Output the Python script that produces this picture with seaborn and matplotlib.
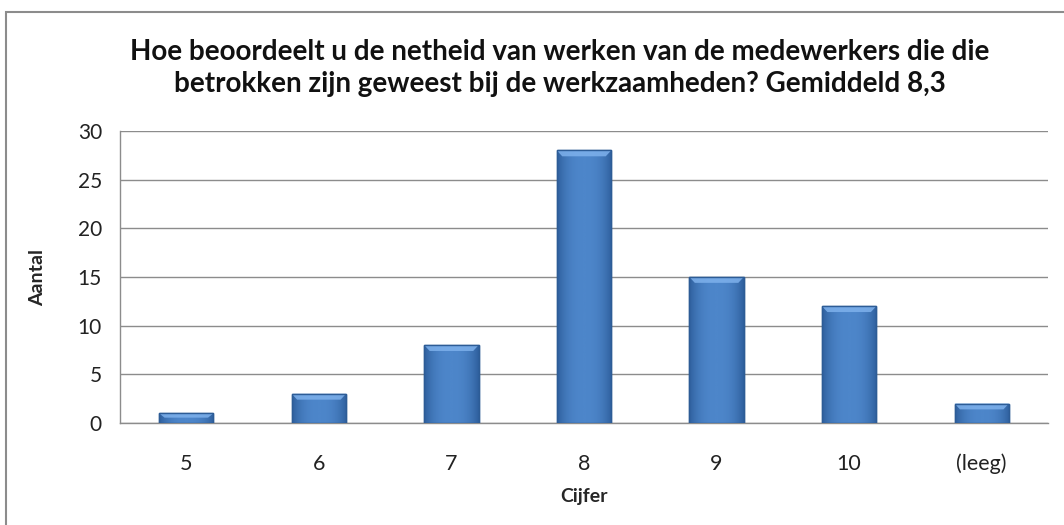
import numpy as np
import pandas as pd
import matplotlib
matplotlib.use("Agg")
import matplotlib.pyplot as plt
import seaborn as sns
from matplotlib.patches import Rectangle, Polygon

# data
categories = ['5', '6', '7', '8', '9', '10', '(leeg)']
counts = [1, 3, 8, 28, 15, 12, 2]
title = ('Hoe beoordeelt u de netheid van werken van de medewerkers die die\n'
         'betrokken zijn geweest bij de werkzaamheden? Gemiddeld 8,3')

sns.set_style('white')
plt.rcParams['font.family'] = ['Lato', 'DejaVu Sans']

df = pd.DataFrame({'Cijfer': categories, 'Aantal': counts})

fig = plt.figure(figsize=(10.64, 5.25), dpi=100)
ax = fig.add_axes([120 / 1064, 1 - 423 / 525, 928 / 1064, 292 / 525])

sns.barplot(data=df, x='Cijfer', y='Aantal', color='#4a80c4', width=0.41,
            edgecolor='#2d5c96', linewidth=1.0, saturation=1, ax=ax, zorder=3)

# horizontale verloop + lichte schuine bovenrand (reliëf)
grad = np.linspace(-1, 1, 64)
grad = np.abs(grad) ** 2.5
cmap = matplotlib.colors.LinearSegmentedColormap.from_list('bar', ['#4d86ca', '#2f609e'])
for p in list(ax.patches):
    x0, w, h = p.get_x(), p.get_width(), p.get_height()
    im = ax.imshow(grad[None, :], extent=(x0, x0 + w, 0, h), cmap=cmap, aspect='auto',
                   zorder=3.5, interpolation='bicubic')
    im.set_clip_path(p)
    d = min(0.6, h * 0.45)
    dx = w * 0.1
    ax.add_patch(Polygon([(x0, h), (x0 + w, h), (x0 + w - dx, h - d), (x0 + dx, h - d)],
                         closed=True, facecolor='#7eb1ec', edgecolor='none', alpha=0.85, zorder=4))
    ax.add_patch(Rectangle((x0, 0), w, h, fill=False, edgecolor='#2d5c96', linewidth=1.0, zorder=5))

ax.set_ylim(0, 30)
ax.set_xlim(-0.5, len(categories) - 0.5)
ax.set_yticks(np.arange(0, 31, 5))
ax.yaxis.grid(True, color='#8c8c8c', linewidth=1.0, zorder=0)
ax.set_axisbelow(True)

# ticks op de grenzen, labels in het midden
ax.set_xticks(np.arange(-0.5, len(categories)), minor=False)
ax.set_xticklabels([])
ax.set_xticks(np.arange(len(categories)), minor=True)
ax.set_xticklabels(categories, minor=True)
ax.tick_params(axis='x', which='major', direction='out', length=8, width=1, color='#8c8c8c')
ax.tick_params(axis='x', which='minor', length=0, pad=22, labelsize=15.5, labelcolor='#222222')
ax.tick_params(axis='y', direction='out', length=8, width=1, color='#8c8c8c',
               labelsize=15, labelcolor='#222222', pad=5)

for s in ['top', 'right']:
    ax.spines[s].set_visible(False)
for s in ['left', 'bottom']:
    ax.spines[s].set_color('#8c8c8c')
    ax.spines[s].set_linewidth(1.0)

ax.set_xlabel('Cijfer', fontsize=14, fontweight='bold', labelpad=10)
ax.set_ylabel('Aantal', fontsize=14, fontweight='bold', labelpad=23)

fig.text(560 / 1064, 1 - 68 / 525, title, ha='center', va='center', fontsize=20,
         fontweight='bold', linespacing=1.3, color='#111111')

# rand om de hele grafiek (rechts en onder buiten beeld)
fig.patches.append(Rectangle((6 / 1064, -10 / 525), 1070 / 1064, 523 / 525, transform=fig.transFigure,
                             fill=False, edgecolor='#8c8c8c', linewidth=1.5))

fig.savefig('out.png', dpi=100)
